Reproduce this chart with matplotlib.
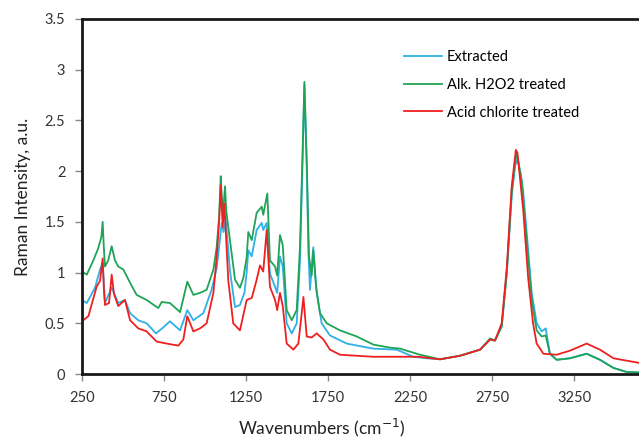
import matplotlib
matplotlib.use("Agg")
import matplotlib.pyplot as plt

# values
extracted_x = [250, 279, 329, 360, 376, 390, 431, 471, 512, 543, 593, 644, 701, 746, 786,
               848, 892, 929, 990, 1040, 1071, 1102, 1113, 1126, 1152, 1183, 1213, 1240, 1254,
               1264, 1285, 1315, 1346, 1355, 1376, 1396, 1427, 1440, 1457, 1474, 1498, 1529,
               1559, 1579, 1595, 1606, 1620, 1630, 1640, 1660, 1681, 1711, 1762, 1864, 2026,
               2169, 2270, 2350, 2433, 2555, 2677, 2738, 2768, 2809, 2840, 2870, 2890, 2905,
               2925, 2940, 2961, 2992, 3022, 3053, 3077, 3103, 3144, 3225, 3327, 3408, 3490,
               3571, 3646]
extracted_y = [0.73, 0.70, 0.85, 1.03, 1.10, 0.70, 0.85, 0.70, 0.73, 0.60, 0.53, 0.50, 0.40,
               0.46, 0.52, 0.43, 0.63, 0.53, 0.60, 0.83, 1.04, 1.49, 1.40, 1.53, 1.02, 0.66,
               0.68, 0.80, 1.00, 1.22, 1.16, 1.42, 1.49, 1.42, 1.49, 0.99, 0.86, 0.80, 1.16,
               1.06, 0.50, 0.40, 0.50, 1.12, 2.10, 2.85, 2.05, 1.22, 0.83, 1.25, 0.80, 0.50,
               0.38, 0.30, 0.25, 0.24, 0.17, 0.155, 0.145, 0.18, 0.24, 0.34, 0.33, 0.47, 1.00,
               1.75, 2.05, 2.12, 1.97, 1.80, 1.40, 0.80, 0.50, 0.42, 0.45, 0.20, 0.14, 0.155,
               0.20, 0.14, 0.06, 0.02, 0.015]

alk_x = [250, 279, 319, 349, 368, 376, 383, 390, 410, 431, 451, 471, 502, 543, 583, 644, 715,
         736, 786, 848, 892, 929, 970, 1010, 1051, 1071, 1086, 1096, 1102, 1108, 1115, 1122,
         1130, 1152, 1183, 1213, 1234, 1254, 1264, 1285, 1315, 1346, 1355, 1380, 1396, 1427,
         1440, 1457, 1474, 1498, 1529, 1559, 1579, 1595, 1606, 1620, 1634, 1650, 1660, 1677,
         1701, 1742, 1823, 1925, 2026, 2128, 2189, 2311, 2433, 2555, 2677, 2738, 2768, 2809,
         2840, 2870, 2900, 2931, 2961, 2992, 3022, 3053, 3077, 3103, 3144, 3225, 3327, 3408,
         3490, 3571, 3646]
alk_y = [1.01, 0.98, 1.12, 1.24, 1.35, 1.50, 1.25, 1.06, 1.12, 1.26, 1.12, 1.06, 1.03, 0.90,
         0.78, 0.73, 0.65, 0.71, 0.70, 0.61, 0.91, 0.78, 0.80, 0.83, 1.03, 1.25, 1.55, 1.95,
         1.75, 1.62, 1.70, 1.85, 1.60, 1.32, 0.93, 0.85, 0.95, 1.15, 1.40, 1.32, 1.59, 1.65,
         1.57, 1.78, 1.12, 1.06, 0.97, 1.37, 1.27, 0.63, 0.53, 0.63, 1.25, 2.20, 2.88, 2.11,
         1.16, 0.97, 1.22, 0.86, 0.60, 0.50, 0.43, 0.37, 0.29, 0.26, 0.25, 0.19, 0.145, 0.18,
         0.24, 0.35, 0.33, 0.47, 1.00, 1.81, 2.19, 1.90, 1.32, 0.73, 0.43, 0.37, 0.38, 0.20,
         0.14, 0.155, 0.20, 0.14, 0.06, 0.02, 0.015]

acid_x = [250, 289, 339, 360, 376, 383, 390, 415, 431, 445, 471, 512, 543, 593, 644, 705, 766,
          837, 868, 892, 929, 970, 1010, 1051, 1071, 1086, 1096, 1108, 1118, 1142, 1172, 1213,
          1254, 1285, 1315, 1335, 1355, 1376, 1396, 1427, 1440, 1457, 1474, 1498, 1539, 1569,
          1585, 1600, 1620, 1650, 1681, 1722, 1762, 1823, 2026, 2300, 2433, 2555, 2677, 2738,
          2768, 2809, 2840, 2870, 2895, 2905, 2941, 2970, 3000, 3022, 3063, 3144, 3225, 3327,
          3408, 3490, 3646]
acid_y = [0.52, 0.57, 0.86, 0.92, 1.14, 0.85, 0.68, 0.70, 0.98, 0.79, 0.67, 0.73, 0.53, 0.45,
          0.42, 0.32, 0.30, 0.28, 0.34, 0.57, 0.42, 0.45, 0.50, 0.80, 1.15, 1.50, 1.86, 1.45,
          1.68, 0.92, 0.50, 0.43, 0.73, 0.75, 0.93, 1.07, 1.01, 1.42, 0.86, 0.73, 0.63, 0.80,
          0.67, 0.30, 0.24, 0.30, 0.53, 0.76, 0.37, 0.36, 0.40, 0.34, 0.24, 0.19, 0.17, 0.17,
          0.145, 0.18, 0.24, 0.34, 0.33, 0.50, 1.05, 1.85, 2.21, 2.18, 1.60, 0.95, 0.50, 0.30,
          0.20, 0.19, 0.23, 0.30, 0.24, 0.155, 0.11]

x_ticks = [250, 750, 1250, 1750, 2250, 2750, 3250]
y_ticks = [0, 0.5, 1, 1.5, 2, 2.5, 3, 3.5]
y_tick_labels = ["0", "0.5", "1", "1.5", "2", "2.5", "3", "3.5"]

plt.rcParams["font.family"] = ["Lato", "DejaVu Sans"]

fig = plt.figure(figsize=(6.39, 4.40), dpi=100)
ax = fig.add_axes([82 / 639, 1 - 374 / 440, 1 - 82 / 639, (374 - 19) / 440])

ax.plot(extracted_x, extracted_y, color="#2fb0e6", lw=1.3, label="Extracted")
ax.plot(alk_x, alk_y, color="#1fa356", lw=1.3, label="Alk. H2O2 treated")
ax.plot(acid_x, acid_y, color="#ee2020", lw=1.3, label="Acid chlorite treated")

ax.set_xlim(250, 3646)
ax.set_ylim(0, 3.5)
ax.set_xticks(x_ticks)
ax.set_yticks(y_ticks)
ax.set_yticklabels(y_tick_labels)

for side in ("left", "bottom", "top"):
    ax.spines[side].set_linewidth(2.0)
    ax.spines[side].set_color("#1a1a1a")
ax.spines["right"].set_visible(False)
ax.tick_params(direction="out", length=5, width=1, color="#888888",
               labelsize=10.5, labelcolor="#333333", pad=7)

ax.set_ylabel("Raman Intensity, a.u.", fontsize=12.5, color="#222222")
ax.yaxis.set_label_coords(-0.092, 0.5)
ax.set_xlabel("Wavenumbers (cm$^{-1}$)", fontsize=12.5, color="#222222")
ax.xaxis.set_label_coords(0.431, -0.12)

ax.legend(loc="upper left", bbox_to_anchor=(0.555, 0.95), frameon=False,
          fontsize=10.5, handlelength=2.6, handletextpad=0.3, labelspacing=0.95)

fig.savefig("out.png", dpi=100)
